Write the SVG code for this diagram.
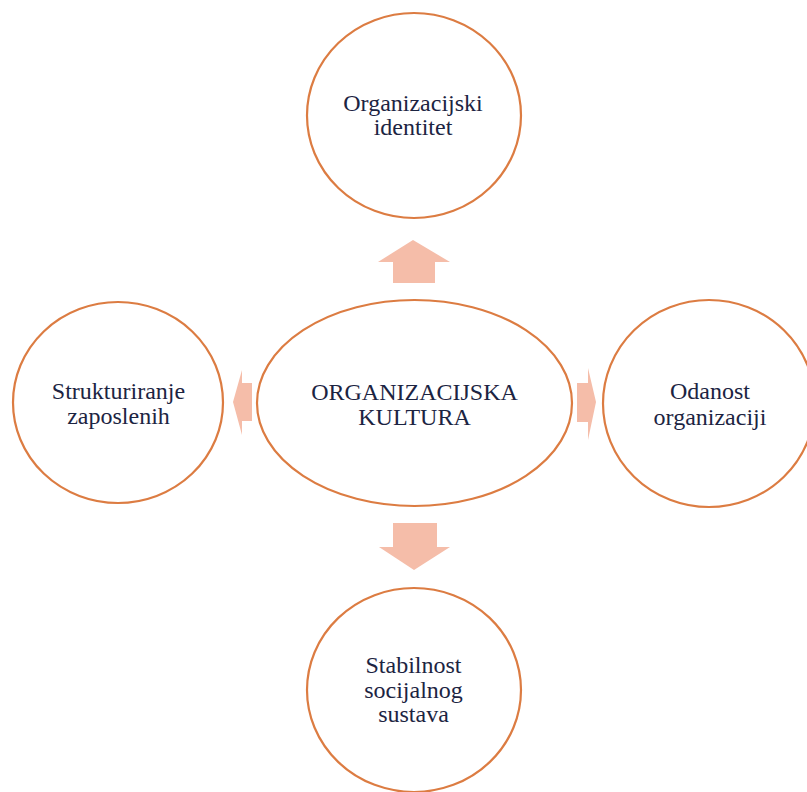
<svg xmlns="http://www.w3.org/2000/svg" width="807" height="792" viewBox="0 0 807 792">
<style>
.node{fill:#ffffff;stroke:#DC7C42;stroke-width:2.2}
.arrow{fill:#F5BDA9;stroke:none}
text{font-family:"Liberation Serif","Times New Roman",serif;font-size:24px;fill:#1C2442;text-anchor:middle}
</style>
<rect width="807" height="792" fill="#ffffff"/>
<g id="connectors">
<polygon class="arrow" points="413,240 450,262 435,262 435,283 393,283 393,262 378,262"/>
<polygon class="arrow" points="393,523 437,523 437,547 450,547 414,570 379,547 393,547"/>
<polygon class="arrow" points="233,402 242,370 242,383 252,383 252,421 242,421 242,435"/>
<polygon class="arrow" points="577,383 588,383 588,368 596,402 588,440 588,422 577,422"/>
</g>
<g id="center">
<ellipse class="node" cx="414.5" cy="403" rx="157.5" ry="103"/>
<text x="414.5" y="400">ORGANIZACIJSKA</text>
<text x="414.5" y="425">KULTURA</text>
</g>
<g id="top">
<ellipse class="node" cx="414" cy="115.5" rx="107" ry="102.5"/>
<text x="413" y="111">Organizacijski</text>
<text x="413" y="135">identitet</text>
</g>
<g id="left">
<ellipse class="node" cx="118" cy="402.5" rx="105" ry="100.5"/>
<text x="118.5" y="399">Strukturiranje</text>
<text x="118.5" y="424">zaposlenih</text>
</g>
<g id="right">
<ellipse class="node" cx="709" cy="403.5" rx="106" ry="103.5"/>
<text x="710" y="399">Odanost</text>
<text x="710" y="425">organizaciji</text>
</g>
<g id="bottom">
<ellipse class="node" cx="414" cy="690" rx="107" ry="102"/>
<text x="413.5" y="673">Stabilnost</text>
<text x="413.5" y="698">socijalnog</text>
<text x="413.5" y="722">sustava</text>
</g>
</svg>
